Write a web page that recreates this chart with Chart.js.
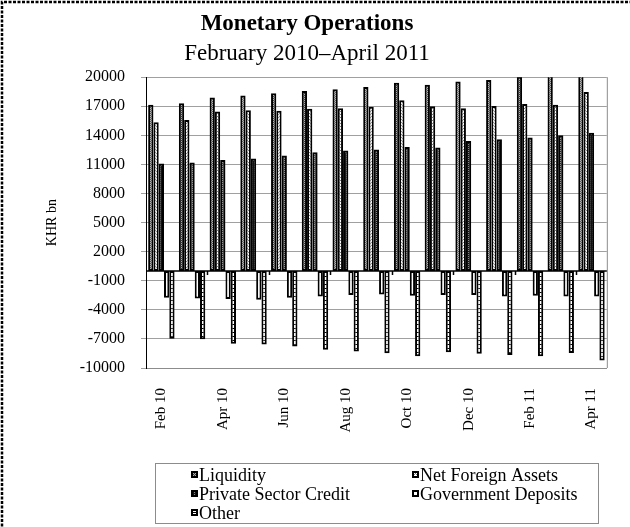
<!DOCTYPE html>
<html lang="en">
<head>
<meta charset="UTF-8">
<script src="https://cdn.jsdelivr.net/npm/chart.js"></script>
<style>
  html, body { margin: 0; padding: 0; background: #ffffff; }
  #wrap { width: 630px; height: 527px; }
</style>
</head>
<body>
<div id="wrap"><canvas id="chart" width="630" height="527"></canvas></div>
<script>
// Values (KHR bn)
const months = ['Feb 10','Mar 10','Apr 10','May 10','Jun 10','Jul 10','Aug 10','Sep 10','Oct 10','Nov 10','Dec 10','Jan 11','Feb 11','Mar 11','Apr 11'];
const liquidity = [17170, 17300, 17900, 18100, 18340, 18580, 18760, 19000, 19440, 19230, 19550, 19720, 20050, 20500, 20900];
const netForeignAssets = [15350, 15580, 16450, 16590, 16550, 16750, 16790, 16960, 17620, 17000, 16790, 17030, 17240, 17170, 18480];
const privateSectorCredit = [11100, 11200, 11450, 11620, 11930, 12270, 12450, 12550, 12790, 12760, 13410, 13590, 13790, 14000, 14270];
const governmentDeposits = [-2750, -2820, -2890, -2960, -2750, -2620, -2480, -2410, -2550, -2480, -2480, -2620, -2550, -2620, -2620];
const other = [-6990, -7030, -7510, -7580, -7790, -8130, -8300, -8480, -8790, -8370, -8540, -8650, -8790, -8440, -9230];
const yTicks = [-10000, -7000, -4000, -1000, 2000, 5000, 8000, 11000, 14000, 17000, 20000];

const serif = '"Liberation Serif", "Times New Roman", serif';
Chart.defaults.font.family = serif;
Chart.defaults.color = '#000';

// small tile patterns, roughly like the excel print fills
function makePattern(w, h, draw) {
  const c = document.createElement('canvas');
  c.width = w; c.height = h;
  const g = c.getContext('2d');
  draw(g);
  return g.createPattern(c, 'repeat');
}
const liqFill = makePattern(2, 2, g => {
  g.fillStyle = '#3a3a3a'; g.fillRect(0, 0, 2, 2);
  g.fillStyle = '#b0b0b0'; g.fillRect(0, 0, 1, 1); g.fillRect(1, 1, 1, 1);
});
const nfaFill = makePattern(2, 3, g => {
  g.fillStyle = '#ffffff'; g.fillRect(0, 0, 2, 3);
  g.fillStyle = '#7a7a7a'; g.fillRect(0, 0, 1, 1); g.fillRect(1, 2, 1, 1);
});
const pscFill = makePattern(2, 2, g => {
  g.fillStyle = '#111'; g.fillRect(0, 0, 2, 2);
  g.fillStyle = '#8a8a8a'; g.fillRect(0, 0, 1, 1);
});
const otherFill = makePattern(4, 4, g => {
  g.fillStyle = '#ffffff'; g.fillRect(0, 0, 4, 4);
  g.fillStyle = '#000'; g.fillRect(0, 0, 4, 1);
});

const series = [
  { label: 'Liquidity', data: liquidity, fill: liqFill },
  { label: 'Net Foreign Assets', data: netForeignAssets, fill: nfaFill },
  { label: 'Private Sector Credit', data: privateSectorCredit, fill: pscFill },
  { label: 'Government Deposits', data: governmentDeposits, fill: '#ffffff' },
  { label: 'Other', data: other, fill: otherFill }
];

const datasets = series.map(s => ({
  label: s.label,
  data: s.data,
  backgroundColor: s.fill,
  borderColor: '#000',
  borderWidth: 2,
  borderSkipped: false,
  barPercentage: 1,
  categoryPercentage: 0.86,
  clip: 0
}));

// dashed frame on the top and left edge of the page
const frame = {
  id: 'frame',
  beforeDraw(chart) {
    const ctx = chart.ctx;
    ctx.save();
    ctx.strokeStyle = '#000';
    ctx.lineWidth = 2.5;
    ctx.setLineDash([3, 1.5]);
    ctx.beginPath();
    ctx.moveTo(2, 630); ctx.lineTo(2, 2); ctx.lineTo(630, 2);
    ctx.stroke();
    ctx.restore();
  }
};

// zero line, category ticks and right border
const axisBits = {
  id: 'axisBits',
  afterDatasetsDraw(chart) {
    const { ctx, chartArea: a } = chart;
    const x = chart.scales.x, y = chart.scales.y;
    const y0 = y.getPixelForValue(0);
    const half = (x.getPixelForValue(1) - x.getPixelForValue(0)) / 2;
    ctx.save();
    ctx.strokeStyle = '#8c8c8c';
    ctx.lineWidth = 1;
    ctx.beginPath();
    ctx.moveTo(a.right + 0.5, a.top); ctx.lineTo(a.right + 0.5, a.bottom);
    ctx.stroke();
    ctx.strokeStyle = '#000';
    ctx.lineWidth = 1.5;
    ctx.beginPath();
    ctx.moveTo(a.left, y0); ctx.lineTo(a.right, y0);
    for (let i = 2; i < months.length; i += 2) {
      const px = Math.round(x.getPixelForValue(i) - half) + 0.5;
      ctx.moveTo(px, y0); ctx.lineTo(px, y0 + 4);
    }
    ctx.stroke();
    ctx.restore();
  }
};

// legend box drawn by hand so the two columns line up
const legendBox = {
  id: 'legendBox',
  afterDraw(chart) {
    const ctx = chart.ctx;
    ctx.save();
    ctx.strokeStyle = '#8c8c8c';
    ctx.lineWidth = 1;
    ctx.strokeRect(155.5, 463.5, 443, 60);
    const cols = [191, 412];
    const rows = [475, 494, 513];
    ctx.font = '18px ' + serif;
    ctx.textBaseline = 'middle';
    chart.data.datasets.forEach((ds, i) => {
      const mx = cols[i % 2], my = rows[Math.floor(i / 2)];
      ctx.fillStyle = '#000';
      ctx.fillRect(mx, my - 4, 7, 7);
      ctx.fillStyle = ds.backgroundColor;
      ctx.fillRect(mx + 2, my - 2, 3, 3);
      ctx.fillStyle = '#000';
      ctx.fillText(ds.label, mx + 8, my + 1);
    });
    ctx.restore();
  }
};

new Chart(document.getElementById('chart'), {
  type: 'bar',
  data: { labels: months, datasets: datasets },
  options: {
    responsive: false,
    animation: false,
    layout: { padding: { left: 0, right: 16, top: 0, bottom: 0 } },
    plugins: {
      legend: { display: false },
      tooltip: { enabled: false },
      title: {
        display: true,
        text: 'Monetary Operations',
        color: '#000',
        font: { size: 23, weight: 'bold', family: serif },
        padding: { top: 10, bottom: 3 }
      },
      subtitle: {
        display: true,
        text: 'February 2010\u2013April 2011',
        color: '#000',
        font: { size: 23, family: serif },
        padding: { top: 0, bottom: 9 }
      }
    },
    scales: {
      x: {
        grid: { display: false, drawTicks: false },
        border: { display: true, color: '#8c8c8c', width: 1 },
        ticks: {
          autoSkip: false,
          minRotation: 90,
          maxRotation: 90,
          padding: 20,
          color: '#000',
          font: { size: 15, family: serif },
          callback: (v, i) => (i % 2 === 0 ? months[i] : '')
        },
        afterFit: s => { s.height = 159; }
      },
      y: {
        min: -10000,
        max: 20000,
        afterBuildTicks: s => { s.ticks = yTicks.map(v => ({ value: v })); },
        afterFit: s => { s.width = 146; },
        grid: { color: '#a0a0a0', lineWidth: 1, tickLength: 5 },
        border: { display: true, color: '#000', width: 1 },
        ticks: {
          padding: 16,
          color: '#000',
          font: { size: 16, family: serif },
          callback: v => String(v)
        },
        title: {
          display: true,
          text: 'KHR bn',
          color: '#000',
          font: { size: 14, family: serif },
          padding: { top: 44, bottom: 0 }
        }
      }
    }
  },
  plugins: [frame, axisBits, legendBox]
});
</script>
</body>
</html>
